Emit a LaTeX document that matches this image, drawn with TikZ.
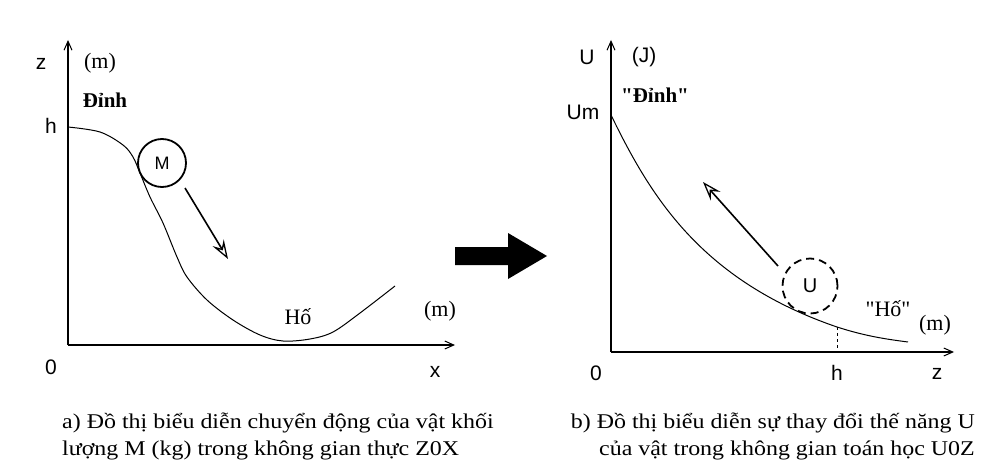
\documentclass[tikz,border=0pt]{standalone}
\usepackage{fontspec}
\setmainfont{Liberation Serif}[Ligatures=TeXOff]
\newfontfamily\lblfont{Liberation Sans}
\usetikzlibrary{arrows.meta}
\tikzset{
  axis/.style={line width=1.3pt,-{Straight Barb[length=9pt,width=8pt,line width=1pt]}},
  curve/.style={line width=1pt},
  sanslbl/.style={font=\lblfont\fontsize{21}{23}\selectfont,inner sep=0pt},
  seriflbl/.style={font=\fontsize{22}{24}\selectfont,inner sep=0pt},
  boldlbl/.style={font=\bfseries\fontsize{21}{24}\selectfont,inner sep=0pt},
  caption/.style={font=\fontsize{21}{24}\selectfont,inner sep=0pt},
  motion/.style={line width=1.6pt,-{Stealth[open,length=19pt,width=13pt,inset=7pt,line width=1.3pt]}},
}
\newcommand{\capline}[1]{\scalebox{1.14}[1]{#1}}
\begin{document}
\begin{tikzpicture}[x=1pt,y=-1pt]
\useasboundingbox (0,0) rectangle (993,460);
\fill[white] (0,0) rectangle (993,460);
% ---------- left panel ----------
\coordinate (O1) at (68,345);
\coordinate (zt) at (68,40);
\coordinate (xe) at (455,345);
\draw[axis] (O1) -- (zt);
\draw[axis] (O1) -- (xe);
\node[sanslbl] (zlbl) at (41,64) {z};
\node[seriflbl] (zunit) at (100,63) {(m)};
\node[boldlbl,anchor=base] (dinh1) at (105,107) {Đỉnh};
\node[sanslbl] (hlbl1) at (51,126) {h};
\node[sanslbl] (o1lbl) at (51,367) {0};
\node[sanslbl] (xlbl) at (435,372) {x};
\node[seriflbl] (xunit) at (440,311) {(m)};
\node[seriflbl,anchor=base] (ho1) at (298,324) {Hố};
\draw[curve] plot[smooth,tension=0.55] coordinates {(68,127) (100,132) (123,145) (133,157) (140,173) (150,197) (163,223) (177,257) (187,277) (207,300) (233,320) (260,335) (283,341) (310,339) (333,332) (360,313) (395,286)};
\node[draw,circle,line width=1.8pt,minimum size=48pt,inner sep=0pt,font=\lblfont\fontsize{18}{20}\selectfont] (M) at (162,163) {M};
\coordinate (ma) at (185,188);
\coordinate (mb) at (228,259);
\draw[motion] (ma) -- (mb);
% ---------- big arrow ----------
\fill (455,247) -- (508,247) -- (508,233) -- (547,256) -- (508,279) -- (508,265) -- (455,265) -- cycle;
% ---------- right panel ----------
\coordinate (O2) at (611,352);
\coordinate (ut) at (611,40);
\coordinate (ze) at (954,352);
\draw[axis] (O2) -- (ut);
\draw[axis] (O2) -- (ze);
\node[sanslbl] (ulbl) at (587,57) {U};
\node[sanslbl] (uunit) at (644,57) {(J)};
\node[boldlbl,anchor=base] (dinh2) at (655,102) {"Đỉnh"};
\node[sanslbl] (um) at (583,112) {Um};
\node[sanslbl] (o2lbl) at (596,373) {0};
\node[sanslbl] (hlbl2) at (837,373) {h};
\node[sanslbl] (zlbl2) at (937,374) {z};
\node[seriflbl] (zunit2) at (935,325) {(m)};
\node[seriflbl,anchor=base] (ho2) at (888,316) {"Hố"};
\draw[curve] (611,115) .. controls (650,195) and (700,280) .. (837,327) .. controls (865,336) and (885,339) .. (908,342);
\coordinate (ht) at (837,327);
\coordinate (hb) at (837,352);
\draw[line width=1pt,dashed] (ht) -- (hb);
\node[draw,circle,dash pattern=on 8pt off 5pt,line width=1.8pt,minimum size=55pt,inner sep=0pt,font=\lblfont\fontsize{20}{22}\selectfont] (U) at (810,286) {U};
\coordinate (ua) at (778,266);
\coordinate (ub) at (703,182);
\draw[motion] (ua) -- (ub);
% ---------- captions ----------
\node[caption,anchor=base west] (capa1) at (62,428) {\capline{a) Đồ thị biểu diễn chuyển động của vật khối}};
\node[caption,anchor=base west] (capa2) at (62,455) {\capline{lượng M (kg) trong không gian thực Z0X}};
\node[caption,anchor=base east] (capb1) at (975,428) {\capline{b) Đồ thị biểu diễn sự thay đổi thế năng U}};
\node[caption,anchor=base east] (capb2) at (975,455) {\capline{của vật trong không gian toán học U0Z}};
\end{tikzpicture}
\end{document}
